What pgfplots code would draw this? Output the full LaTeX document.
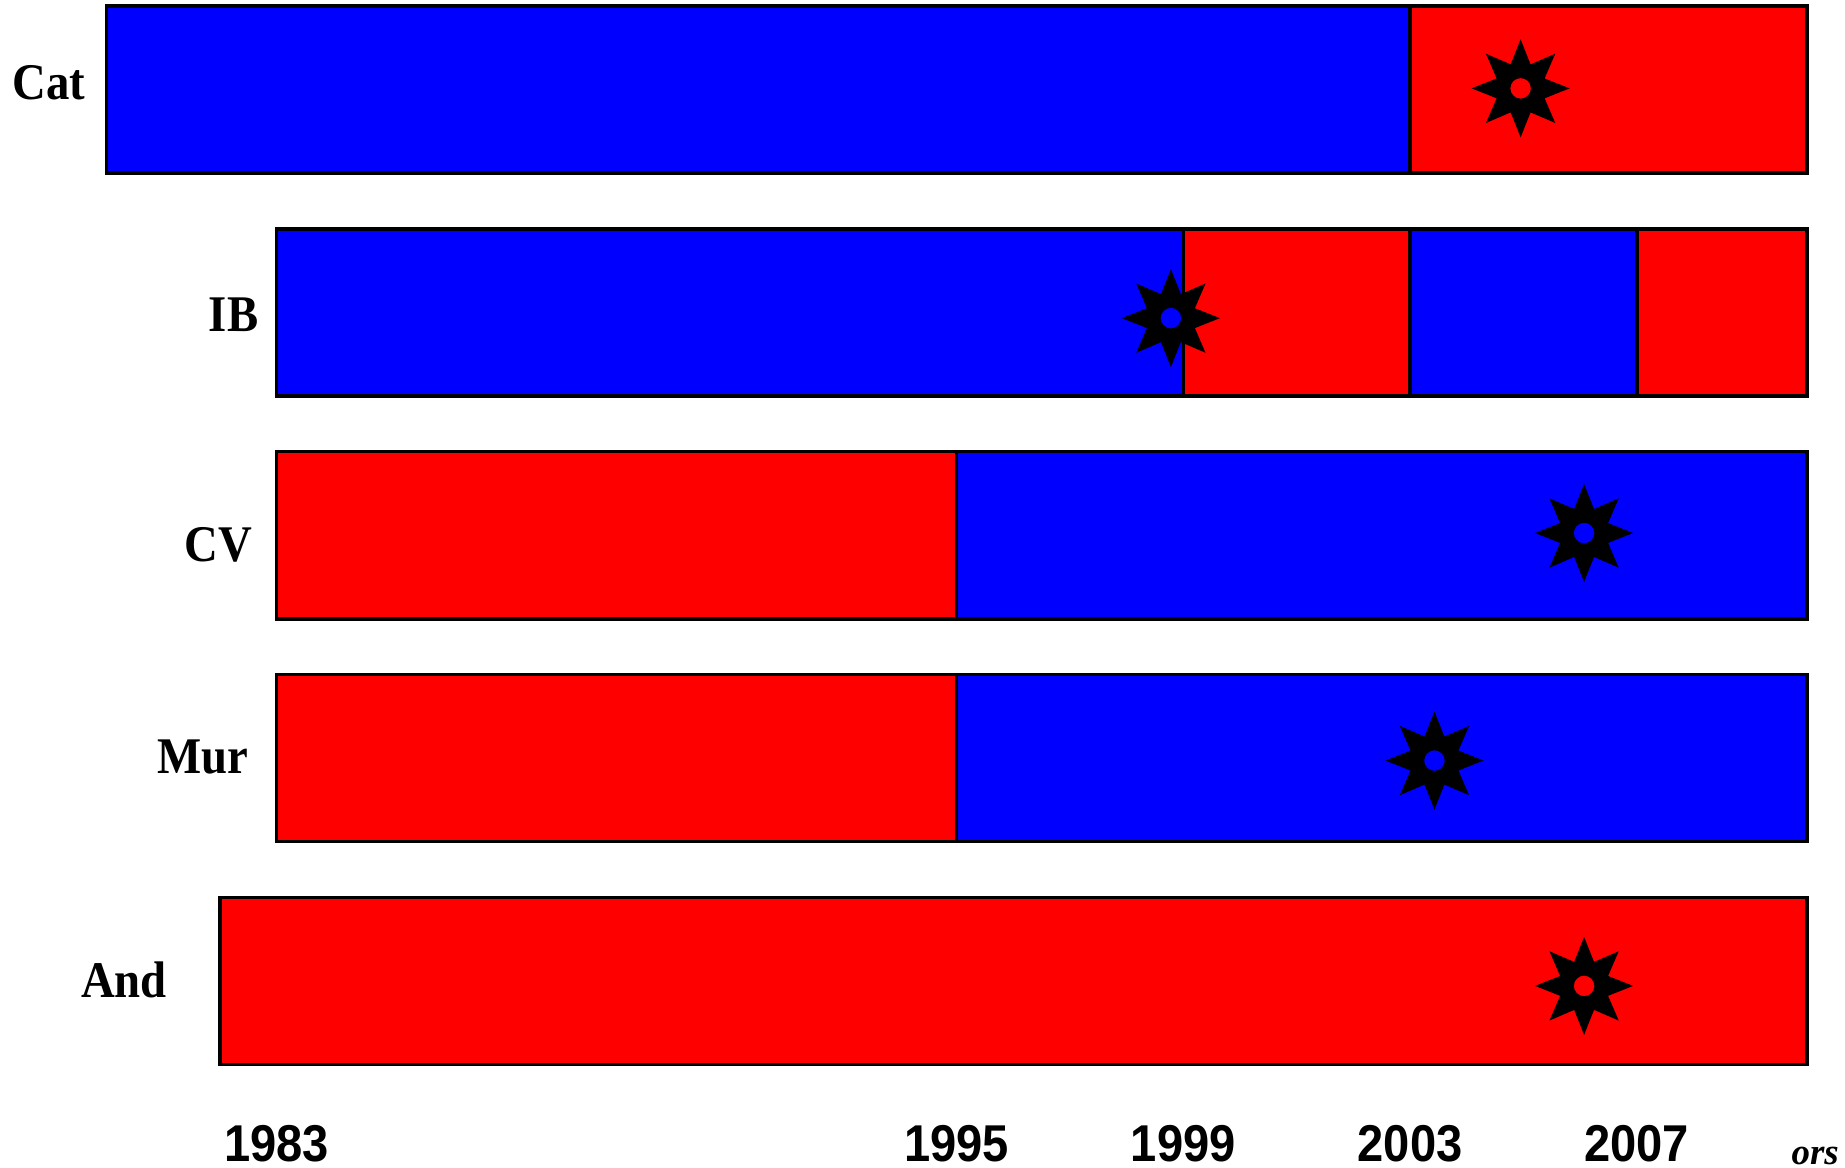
\documentclass[border=0pt]{standalone}
\usepackage{pgfplots}
\pgfplotsset{compat=1.18}
\usepackage{fontspec}
\usepackage{graphicx}
\setmainfont{Liberation Serif}
\newfontfamily\tickfont{Liberation Sans}
\definecolor{pblue}{RGB}{0,0,255}
\definecolor{pred}{RGB}{255,0,0}
\tikzset{seg/.style={draw=black, line width=0.35mm, line join=miter}}
\pgfdeclareplotmark{star8}{%
  \pgfpathmoveto{\pgfpointpolar{90}{\pgfplotmarksize}}%
  \pgfpathlineto{\pgfpointpolar{112.5}{0.53\pgfplotmarksize}}%
  \pgfpathlineto{\pgfpointpolar{135}{\pgfplotmarksize}}%
  \pgfpathlineto{\pgfpointpolar{157.5}{0.53\pgfplotmarksize}}%
  \pgfpathlineto{\pgfpointpolar{180}{\pgfplotmarksize}}%
  \pgfpathlineto{\pgfpointpolar{202.5}{0.53\pgfplotmarksize}}%
  \pgfpathlineto{\pgfpointpolar{225}{\pgfplotmarksize}}%
  \pgfpathlineto{\pgfpointpolar{247.5}{0.53\pgfplotmarksize}}%
  \pgfpathlineto{\pgfpointpolar{270}{\pgfplotmarksize}}%
  \pgfpathlineto{\pgfpointpolar{292.5}{0.53\pgfplotmarksize}}%
  \pgfpathlineto{\pgfpointpolar{315}{\pgfplotmarksize}}%
  \pgfpathlineto{\pgfpointpolar{337.5}{0.53\pgfplotmarksize}}%
  \pgfpathlineto{\pgfpointpolar{0}{\pgfplotmarksize}}%
  \pgfpathlineto{\pgfpointpolar{22.5}{0.53\pgfplotmarksize}}%
  \pgfpathlineto{\pgfpointpolar{45}{\pgfplotmarksize}}%
  \pgfpathlineto{\pgfpointpolar{67.5}{0.53\pgfplotmarksize}}%
  \pgfpathclose
  \pgfusepathqfill
}
\newcommand{\lbl}[1]{\scalebox{1}[1.1]{#1}}
\begin{document}
\begin{tikzpicture}
\begin{axis}[
  scale only axis, width=184.5mm, height=116.8mm,
  xmin=1978.122, xmax=2010.673, ymin=-0.839, ymax=4.4015,
  clip=false,
  axis line style={draw=none},
  major tick length=0pt,
  ytick=\empty,
  xtick={1983,1995,1999,2003,2007},
  xticklabels={{\lbl{1983}},{\lbl{1995}},{\lbl{1999}},{\lbl{2003}},{\lbl{2007}}},
  xticklabel style={anchor=base, inner sep=0pt, yshift=0.6mm, font=\tickfont\bfseries\fontsize{13.4}{13.4}\selectfont},
]
% Cat (y=4)
\addplot[seg, fill=pblue] coordinates {(1980,3.625) (2003,3.625) (2003,4.375) (1980,4.375)} -- cycle;
\addplot[seg, fill=pred] coordinates {(2003,3.625) (2010,3.625) (2010,4.375) (2003,4.375)} -- cycle;
% IB (y=3)
\addplot[seg, fill=pblue] coordinates {(1983,2.625) (1999,2.625) (1999,3.375) (1983,3.375)} -- cycle;
\addplot[seg, fill=pred] coordinates {(1999,2.625) (2003,2.625) (2003,3.375) (1999,3.375)} -- cycle;
\addplot[seg, fill=pblue] coordinates {(2003,2.625) (2007,2.625) (2007,3.375) (2003,3.375)} -- cycle;
\addplot[seg, fill=pred] coordinates {(2007,2.625) (2010,2.625) (2010,3.375) (2007,3.375)} -- cycle;
% CV (y=2)
\addplot[seg, fill=pred] coordinates {(1983,1.625) (1995,1.625) (1995,2.375) (1983,2.375)} -- cycle;
\addplot[seg, fill=pblue] coordinates {(1995,1.625) (2010,1.625) (2010,2.375) (1995,2.375)} -- cycle;
% Mur (y=1)
\addplot[seg, fill=pred] coordinates {(1983,0.625) (1995,0.625) (1995,1.375) (1983,1.375)} -- cycle;
\addplot[seg, fill=pblue] coordinates {(1995,0.625) (2010,0.625) (2010,1.375) (1995,1.375)} -- cycle;
% And (y=0)
\addplot[seg, fill=pred] coordinates {(1982,-0.375) (2010,-0.375) (2010,0.375) (1982,0.375)} -- cycle;
% stars
\addplot[only marks, mark=star8, mark size=4.9mm, black] coordinates {
  (2004.95,4.005) (1998.78,2.974) (2006.07,2.01) (2003.43,0.989) (2006.07,-0.022)};
\addplot[only marks, mark=*, mark size=1.1mm, mark options={draw=none, fill=pred}] coordinates {
  (2004.95,4.005) (2006.07,-0.022)};
\addplot[only marks, mark=*, mark size=1.1mm, mark options={draw=none, fill=pblue}] coordinates {
  (1998.78,2.974) (2006.07,2.01) (2003.43,0.989)};
% row labels
\node[anchor=base east, inner sep=0pt, font=\bfseries\fontsize{13.3}{13.3}\selectfont] at (axis cs:1979.64,3.953) {\lbl{Cat}};
\node[anchor=base east, inner sep=0pt, font=\bfseries\fontsize{13.3}{13.3}\selectfont] at (axis cs:1982.69,2.914) {\lbl{IB}};
\node[anchor=base east, inner sep=0pt, font=\bfseries\fontsize{13.3}{13.3}\selectfont] at (axis cs:1982.585,1.881) {\lbl{CV}};
\node[anchor=base east, inner sep=0pt, font=\bfseries\fontsize{13.3}{13.3}\selectfont] at (axis cs:1982.52,0.930) {\lbl{Mur}};
\node[anchor=base east, inner sep=0pt, font=\bfseries\fontsize{13.3}{13.3}\selectfont] at (axis cs:1981.08,-0.073) {\lbl{And}};
\node[anchor=base west, inner sep=0pt, font=\bfseries\itshape\fontsize{10.5}{10.5}\selectfont] at (axis cs:2009.72,-0.8255) {ors};
\end{axis}
\pgfresetboundingbox
\path (current axis.south west) rectangle (current axis.north east);
\end{tikzpicture}
\end{document}
